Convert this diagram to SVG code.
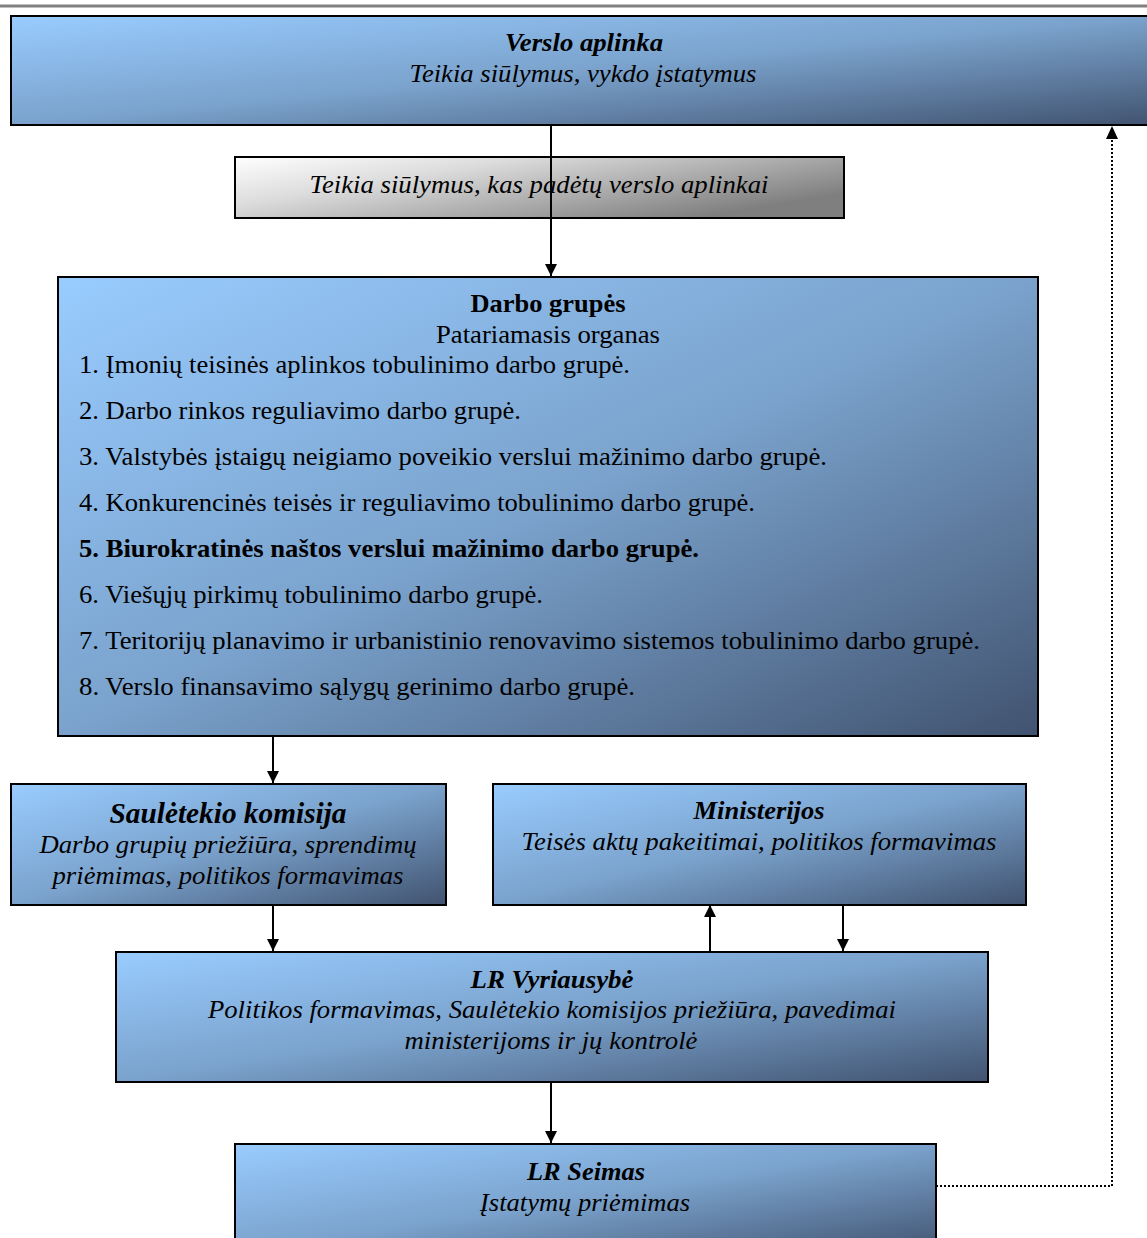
<svg xmlns="http://www.w3.org/2000/svg" width="1147" height="1238" viewBox="0 0 1147 1238">
<defs>
<linearGradient id="blue" x1="0" y1="0" x2="1" y2="1">
<stop offset="0" stop-color="#99CCFF"/>
<stop offset="0.5" stop-color="#7AA2CC"/>
<stop offset="1" stop-color="#415370"/>
</linearGradient>
<linearGradient id="gray" x1="0" y1="0" x2="1" y2="0.6">
<stop offset="0" stop-color="#FFFFFF"/>
<stop offset="0.35" stop-color="#DCDCDC"/>
<stop offset="1" stop-color="#7F7F7F"/>
</linearGradient>
<marker id="arr" viewBox="0 0 12 12" refX="12" refY="6" markerWidth="12" markerHeight="12" markerUnits="userSpaceOnUse" orient="auto">
<path d="M0,0 L12,6 L0,12 Z" fill="#000"/>
</marker>
</defs>
<style>
.box{fill:url(#blue);stroke:#000;stroke-width:2}
text{font-family:"Liberation Serif","Times New Roman",serif;font-size:25px;fill:#000}
.ti{font-style:italic}
.b{font-weight:bold}
.c{text-anchor:middle}
.ln{stroke:#000;stroke-width:2;fill:none}
.dot{stroke:#000;stroke-width:2;fill:none;stroke-dasharray:2 2}
</style>
<rect x="0" y="0" width="1147" height="1238" fill="#fff"/>
<line x1="0" y1="6" x2="1147" y2="6" stroke="#808080" stroke-width="3"/>

<g id="connectors">
<line class="ln" x1="551" y1="125" x2="551" y2="276" marker-end="url(#arr)"/>
<line class="ln" x1="273" y1="736" x2="273" y2="783" marker-end="url(#arr)"/>
<line class="ln" x1="273" y1="905" x2="273" y2="951" marker-end="url(#arr)"/>
<line class="ln" x1="710" y1="951" x2="710" y2="905" marker-end="url(#arr)"/>
<line class="ln" x1="843" y1="905" x2="843" y2="951" marker-end="url(#arr)"/>
<line class="ln" x1="551" y1="1082" x2="551" y2="1143" marker-end="url(#arr)"/>
<polyline class="dot" points="936,1186 1112,1186 1112,140"/>
<path d="M1106,139 L1112,126 L1118,139 Z" fill="#000"/>
</g>

<g id="verslo-aplinka">
<rect class="box" x="11" y="16" width="1150" height="109"/>
<text class="ti b c" x="584" y="51" textLength="158" lengthAdjust="spacingAndGlyphs">Verslo aplinka</text>
<text class="ti c" x="583" y="82" textLength="347" lengthAdjust="spacingAndGlyphs">Teikia siūlymus, vykdo įstatymus</text>
</g>

<g id="siulymai">
<rect x="235" y="157" width="609" height="61" fill="url(#gray)" stroke="#000" stroke-width="2"/>
<text class="ti c" x="539" y="193" textLength="459" lengthAdjust="spacingAndGlyphs">Teikia siūlymus, kas padėtų verslo aplinkai</text>
</g>
<line class="ln" x1="551" y1="150" x2="551" y2="225"/>

<g id="darbo-grupes">
<rect class="box" x="58" y="277" width="980" height="459"/>
<text class="b c" x="548" y="312" textLength="155" lengthAdjust="spacingAndGlyphs">Darbo grupės</text>
<text class="c" x="548" y="343" textLength="224" lengthAdjust="spacingAndGlyphs">Patariamasis organas</text>
<text x="79" y="373" textLength="551" lengthAdjust="spacingAndGlyphs">1. Įmonių teisinės aplinkos tobulinimo darbo grupė.</text>
<text x="79" y="419" textLength="442" lengthAdjust="spacingAndGlyphs">2. Darbo rinkos reguliavimo darbo grupė.</text>
<text x="79" y="465" textLength="748" lengthAdjust="spacingAndGlyphs">3. Valstybės įstaigų neigiamo poveikio verslui mažinimo darbo grupė.</text>
<text x="79" y="511" textLength="676" lengthAdjust="spacingAndGlyphs">4. Konkurencinės teisės ir reguliavimo tobulinimo darbo grupė.</text>
<text class="b" x="79" y="557" textLength="620" lengthAdjust="spacingAndGlyphs">5. Biurokratinės naštos verslui mažinimo darbo grupė.</text>
<text x="79" y="603" textLength="464" lengthAdjust="spacingAndGlyphs">6. Viešųjų pirkimų tobulinimo darbo grupė.</text>
<text x="79" y="649" textLength="901" lengthAdjust="spacingAndGlyphs">7. Teritorijų planavimo ir urbanistinio renovavimo sistemos tobulinimo darbo grupė.</text>
<text x="79" y="695" textLength="556" lengthAdjust="spacingAndGlyphs">8. Verslo finansavimo sąlygų gerinimo darbo grupė.</text>
</g>

<g id="sauletekio-komisija">
<rect class="box" x="11" y="784" width="435" height="121"/>
<text class="ti b c" x="228" y="823" style="font-size:29px" textLength="237" lengthAdjust="spacingAndGlyphs">Saulėtekio komisija</text>
<text class="ti c" x="228" y="853" textLength="377" lengthAdjust="spacingAndGlyphs">Darbo grupių priežiūra, sprendimų</text>
<text class="ti c" x="228" y="884" textLength="351" lengthAdjust="spacingAndGlyphs">priėmimas, politikos formavimas</text>
</g>

<g id="ministerijos">
<rect class="box" x="493" y="784" width="533" height="121"/>
<text class="ti b c" x="759" y="819" textLength="131" lengthAdjust="spacingAndGlyphs">Ministerijos</text>
<text class="ti c" x="759" y="850" textLength="475" lengthAdjust="spacingAndGlyphs">Teisės aktų pakeitimai, politikos formavimas</text>
</g>

<g id="lr-vyriausybe">
<rect class="box" x="116" y="952" width="872" height="130"/>
<text class="ti b c" x="552" y="988" textLength="163" lengthAdjust="spacingAndGlyphs">LR Vyriausybė</text>
<text class="ti c" x="552" y="1018" textLength="688" lengthAdjust="spacingAndGlyphs">Politikos formavimas, Saulėtekio komisijos priežiūra, pavedimai</text>
<text class="ti c" x="551" y="1049" textLength="293" lengthAdjust="spacingAndGlyphs">ministerijoms ir jų kontrolė</text>
</g>

<g id="lr-seimas">
<rect class="box" x="235" y="1144" width="701" height="110"/>
<text class="ti b c" x="586" y="1180" textLength="118" lengthAdjust="spacingAndGlyphs">LR Seimas</text>
<text class="ti c" x="585" y="1211" textLength="210" lengthAdjust="spacingAndGlyphs">Įstatymų priėmimas</text>
</g>
</svg>
